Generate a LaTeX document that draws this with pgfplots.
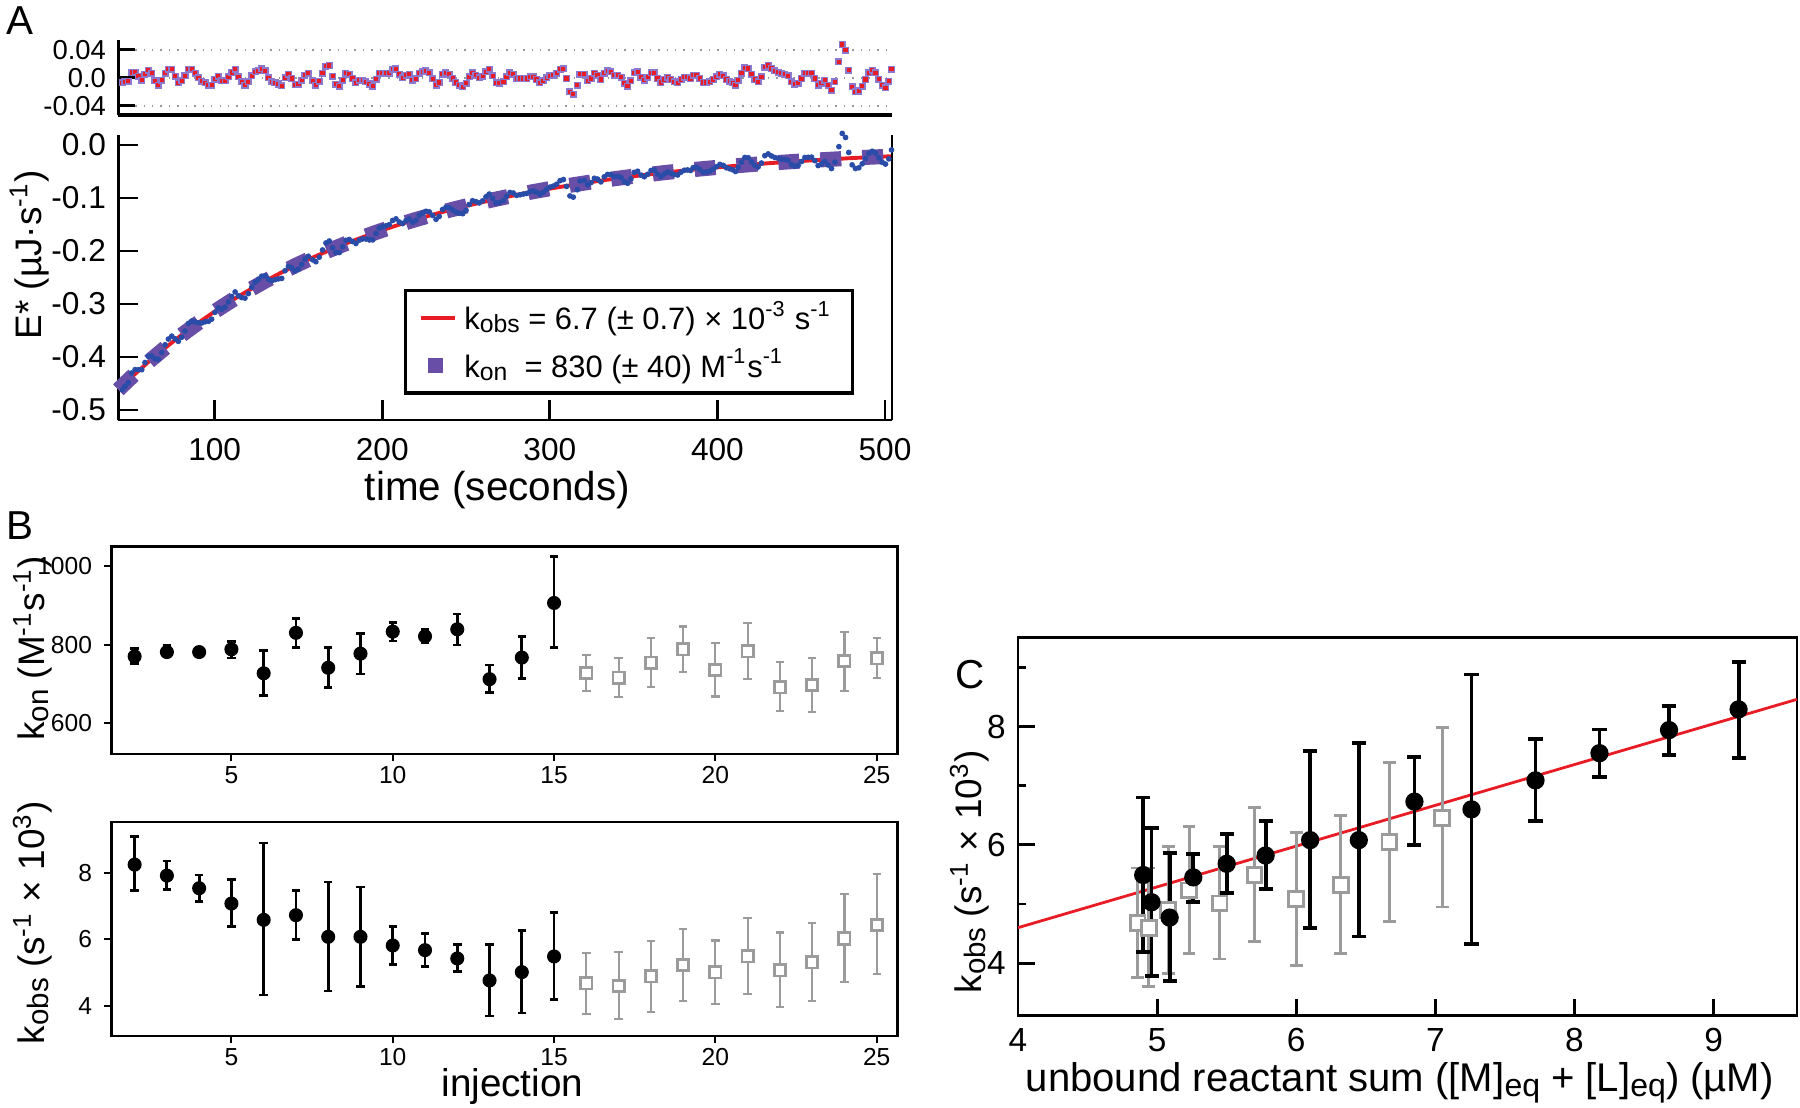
\documentclass[border=0pt]{standalone}
\usepackage{fontspec}
\setmainfont{Liberation Sans}
\usepackage{graphicx}
\usepackage{pgfplots}
\pgfplotsset{compat=1.18}
\usepackage{pgfplotstable}

\definecolor{fitred}{RGB}{232,28,36}
\definecolor{konpurple}{RGB}{104,78,166}
\definecolor{datablue}{RGB}{40,76,168}
\definecolor{resedge}{RGB}{140,120,205}
\definecolor{lightgrey}{RGB}{155,155,155}

\newcommand{\fs}[1]{\fontsize{#1}{#1}\selectfont}
\newcommand{\sub}[1]{\raisebox{-0.2ex}{\scalebox{0.8}{#1}}}

% time course: t, residual r, data d
\pgfplotstableread{
t r d
44.9 -0.0071 -0.4619
46.5 -0.0057 -0.4556
48.5 -0.0048 -0.4486
50.5 0.0076 -0.4302
52.5 0.0081 -0.4240
54.5 0.0024 -0.4240
56.5 -0.0033 -0.4240
58.4 0.0048 -0.4105
60.4 0.0110 -0.3986
62.4 0.0062 -0.3981
64.4 -0.0043 -0.4033
66.4 -0.0105 -0.4042
68.4 -0.0033 -0.3917
70.4 0.0062 -0.3769
72.4 0.0119 -0.3662
74.4 0.0124 -0.3607
76.4 0.0024 -0.3657
78.3 -0.0071 -0.3705
80.3 -0.0043 -0.3628
82.3 0.0029 -0.3510
84.3 0.0124 -0.3368
86.3 0.0124 -0.3322
88.3 0.0062 -0.3337
90.3 0.0000 -0.3353
92.3 -0.0048 -0.3358
94.3 -0.0071 -0.3337
96.3 -0.0105 -0.3328
98.2 -0.0105 -0.3286
100.2 -0.0019 -0.3157
102.2 0.0024 -0.3073
104.2 -0.0043 -0.3099
106.2 -0.0043 -0.3059
108.2 0.0014 -0.2961
110.2 0.0076 -0.2858
112.2 0.0124 -0.2772
114.2 0.0014 -0.2844
116.1 -0.0057 -0.2879
118.1 -0.0105 -0.2889
120.1 -0.0057 -0.2803
122.1 0.0029 -0.2682
124.1 0.0086 -0.2589
126.1 0.0100 -0.2539
128.1 0.0129 -0.2475
130.1 0.0100 -0.2468
132.1 0.0000 -0.2535
134.0 -0.0057 -0.2560
136.0 -0.0071 -0.2541
138.0 -0.0090 -0.2526
140.0 -0.0114 -0.2517
142.0 0.0000 -0.2372
144.0 0.0052 -0.2289
146.0 -0.0010 -0.2319
148.0 -0.0100 -0.2378
150.0 -0.0095 -0.2342
152.0 -0.0033 -0.2251
153.9 0.0038 -0.2152
155.9 0.0062 -0.2099
158.5 -0.0043 -0.2167
160.4 -0.0105 -0.2202
162.4 -0.0048 -0.2117
164.4 0.0062 -0.1980
166.4 0.0167 -0.1848
168.4 0.0176 -0.1811
170.4 0.0024 -0.1937
172.4 -0.0095 -0.2030
174.4 -0.0119 -0.2029
176.4 -0.0033 -0.1917
178.3 0.0062 -0.1798
180.3 0.0052 -0.1782
182.3 -0.0010 -0.1821
184.3 -0.0071 -0.1858
186.3 -0.0033 -0.1796
188.3 -0.0033 -0.1772
190.3 -0.0057 -0.1773
192.3 -0.0090 -0.1784
194.3 -0.0119 -0.1790
196.3 -0.0019 -0.1668
198.2 0.0062 -0.1566
200.2 0.0062 -0.1544
202.2 0.0062 -0.1523
204.2 0.0062 -0.1502
206.2 0.0119 -0.1424
208.2 0.0129 -0.1393
210.2 0.0048 -0.1453
212.2 0.0000 -0.1482
214.2 0.0038 -0.1424
216.1 0.0048 -0.1396
218.1 -0.0033 -0.1457
220.1 -0.0014 -0.1419
222.1 0.0062 -0.1325
224.1 0.0086 -0.1283
226.1 0.0100 -0.1250
228.1 0.0071 -0.1261
230.1 -0.0014 -0.1328
232.1 -0.0105 -0.1402
234.0 -0.0067 -0.1348
236.0 0.0048 -0.1216
238.0 0.0071 -0.1176
240.0 0.0048 -0.1182
242.0 -0.0010 -0.1224
244.0 -0.0067 -0.1265
246.0 -0.0105 -0.1287
248.0 -0.0129 -0.1295
250.0 -0.0081 -0.1231
251.9 0.0014 -0.1122
253.9 0.0071 -0.1050
255.9 0.0038 -0.1068
257.9 0.0000 -0.1092
259.9 0.0024 -0.1053
261.9 0.0086 -0.0977
263.9 0.0124 -0.0925
265.9 0.0029 -0.1006
267.9 -0.0071 -0.1092
269.8 -0.0081 -0.1088
272.3 -0.0057 -0.1048
274.2 0.0014 -0.0965
276.2 0.0071 -0.0895
278.2 0.0048 -0.0905
280.2 -0.0010 -0.0950
282.2 -0.0010 -0.0938
284.2 -0.0010 -0.0925
286.2 -0.0010 -0.0913
288.2 0.0014 -0.0877
290.2 0.0014 -0.0865
292.1 -0.0024 -0.0892
294.1 -0.0071 -0.0928
296.1 -0.0043 -0.0888
298.1 0.0000 -0.0834
300.1 0.0029 -0.0793
302.1 0.0038 -0.0774
304.1 0.0062 -0.0739
306.1 0.0119 -0.0672
308.1 0.0129 -0.0651
310.0 -0.0010 -0.0780
312.0 -0.0200 -0.0960
314.0 -0.0233 -0.0983
316.4 -0.0105 -0.0843
318.0 0.0052 -0.0678
320.6 0.0048 -0.0669
322.6 -0.0043 -0.0751
324.6 -0.0010 -0.0708
326.6 0.0062 -0.0627
328.5 0.0038 -0.0642
330.5 -0.0024 -0.0695
332.5 0.0062 -0.0600
334.5 0.0100 -0.0553
336.5 0.0086 -0.0558
338.5 0.0038 -0.0598
340.5 0.0038 -0.0589
342.5 0.0005 -0.0614
344.5 -0.0081 -0.0692
346.4 -0.0119 -0.0722
348.4 -0.0043 -0.0638
350.4 0.0071 -0.0516
352.4 0.0086 -0.0494
354.4 0.0005 -0.0567
356.4 -0.0033 -0.0598
358.4 0.0005 -0.0552
360.4 0.0071 -0.0479
362.4 0.0071 -0.0471
364.3 -0.0010 -0.0546
366.3 -0.0067 -0.0595
368.3 -0.0024 -0.0545
370.3 0.0005 -0.0509
372.3 -0.0024 -0.0531
374.3 -0.0057 -0.0557
376.3 -0.0071 -0.0565
378.3 -0.0024 -0.0511
380.3 0.0005 -0.0475
382.2 0.0005 -0.0469
384.0 -0.0010 -0.0479
385.6 0.0038 -0.0426
387.5 0.0038 -0.0420
389.5 -0.0010 -0.0462
391.5 -0.0067 -0.0513
393.5 -0.0067 -0.0507
395.5 -0.0057 -0.0491
397.5 -0.0024 -0.0452
399.5 0.0014 -0.0408
401.5 0.0052 -0.0365
403.5 0.0029 -0.0383
405.4 -0.0024 -0.0430
407.4 -0.0048 -0.0449
409.2 -0.0071 -0.0467
410.8 -0.0105 -0.0498
412.4 -0.0033 -0.0421
414.4 0.0062 -0.0321
416.4 0.0143 -0.0234
418.4 0.0133 -0.0239
420.4 0.0048 -0.0319
422.4 -0.0024 -0.0386
424.3 -0.0057 -0.0415
426.3 0.0014 -0.0339
428.3 0.0148 -0.0200
430.3 0.0176 -0.0167
432.3 0.0133 -0.0206
434.3 0.0100 -0.0235
436.3 0.0081 -0.0249
438.3 0.0062 -0.0264
440.3 0.0048 -0.0273
442.2 0.0029 -0.0288
444.2 -0.0057 -0.0370
446.2 -0.0090 -0.0399
448.2 -0.0081 -0.0386
450.2 -0.0010 -0.0311
452.2 0.0062 -0.0235
454.2 0.0062 -0.0231
456.2 0.0062 -0.0227
458.2 -0.0010 -0.0295
460.1 -0.0105 -0.0387
462.1 -0.0081 -0.0359
464.1 -0.0033 -0.0308
466.1 -0.0105 -0.0376
468.1 -0.0176 -0.0443
470.1 -0.0057 -0.0321
472.5 0.0229 -0.0030
474.5 0.0476 0.0220
476.5 0.0395 0.0143
478.4 0.0110 -0.0139
480.4 -0.0129 -0.0374
482.4 -0.0200 -0.0442
484.4 -0.0190 -0.0429
486.4 -0.0119 -0.0355
488.4 -0.0024 -0.0256
490.4 0.0071 -0.0158
492.4 0.0110 -0.0117
494.4 0.0071 -0.0153
496.3 -0.0019 -0.0240
498.3 -0.0105 -0.0323
500.3 -0.0143 -0.0359
502.3 -0.0048 -0.0261
503.9 0.0119 -0.0092
}\timecourse

% fitted curve
\pgfplotstableread{
t e
42.5 -0.4619
50 -0.4392
60 -0.4107
70 -0.3841
80 -0.3592
90 -0.3360
100 -0.3142
110 -0.2938
120 -0.2748
130 -0.2570
140 -0.2403
150 -0.2247
160 -0.2102
170 -0.1966
180 -0.1838
190 -0.1719
200 -0.1608
210 -0.1503
220 -0.1406
230 -0.1315
240 -0.1230
250 -0.1150
260 -0.1076
270 -0.1006
280 -0.0941
290 -0.0880
300 -0.0823
310 -0.0770
320 -0.0720
330 -0.0673
340 -0.0629
350 -0.0589
360 -0.0551
370 -0.0515
380 -0.0481
390 -0.0450
400 -0.0421
410 -0.0394
420 -0.0368
430 -0.0344
440 -0.0322
450 -0.0301
460 -0.0282
470 -0.0264
480 -0.0246
490 -0.0230
500 -0.0216
504.2 -0.0210
}\fitcurve

% kon per injection
\pgfplotstableread{
i k ep em
2 770 20 18
3 781 16 12
4 781 12 11
5 788 20 22
6 727 59 57
7 830 37 38
8 741 51 50
9 777 52 52
10 833 24 24
11 821 17 16
12 839 39 40
13 712 36 34
14 767 53 53
15 906 118 114
}\konblack
\pgfplotstableread{
i k ep em
16 727 46 45
17 716 50 49
18 754 62 63
19 788 58 57
20 735 68 67
21 783 71 71
22 691 64 61
23 697 69 69
24 758 75 76
25 765 51 51
}\kongrey

% kobs per injection
\pgfplotstableread{
i k ep em
2 8.24 0.84 0.78
3 7.91 0.44 0.42
4 7.53 0.40 0.39
5 7.07 0.72 0.68
6 6.58 2.31 2.26
7 6.72 0.75 0.73
8 6.07 1.65 1.63
9 6.07 1.50 1.49
10 5.81 0.56 0.57
11 5.67 0.49 0.48
12 5.42 0.42 0.39
13 4.76 1.09 1.07
14 5.01 1.25 1.23
15 5.48 1.32 1.30
}\kobsblack
\pgfplotstableread{
i k ep em
16 4.67 0.91 0.91
17 4.60 1.01 0.99
18 4.88 1.07 1.06
19 5.23 1.08 1.08
20 5.00 0.96 0.95
21 5.48 1.15 1.12
22 5.06 1.14 1.11
23 5.30 1.18 1.15
24 6.02 1.35 1.32
25 6.43 1.53 1.48
}\kobsgrey

% kobs against unbound reactant sum
\pgfplotstableread{
c k ep em
4.90 5.49 1.31 1.30
4.96 5.03 1.25 1.24
5.09 4.77 1.09 1.07
5.26 5.45 0.40 0.41
5.50 5.68 0.50 0.50
5.78 5.82 0.58 0.57
6.10 6.08 1.51 1.49
6.45 6.08 1.64 1.63
6.85 6.73 0.75 0.73
7.26 6.60 2.28 2.27
7.72 7.09 0.70 0.68
8.18 7.55 0.40 0.40
8.68 7.94 0.41 0.42
9.18 8.29 0.80 0.82
}\concblack
\pgfplotstableread{
c k ep em
4.86 4.68 0.93 0.92
4.94 4.59 1.02 0.98
5.08 4.90 1.07 1.08
5.23 5.23 1.08 1.06
5.45 5.01 0.96 0.94
5.70 5.49 1.14 1.12
6.00 5.08 1.13 1.12
6.32 5.32 1.17 1.16
6.67 6.05 1.34 1.34
7.05 6.45 1.53 1.50
}\concgrey

\pgfplotsset{
  panel/.style={scale only axis, anchor=south west,
    /pgf/number format/assume math mode=true,
    /pgf/number format/1000 sep={},
    tick style={black}, axis line style={black}},
  % #1 mark size, #2 bar width, #3 cap half length
  blackpts/.style n args={3}{only marks, mark=*, mark size=#1, black,
    error bars/.cd, y dir=both, y explicit,
    error bar style={line width=#2, black},
    error mark options={rotate=90, mark size=#3, line width=#2, black}},
  greypts/.style n args={3}{only marks, mark=square*, mark size=#1,
    mark options={draw=lightgrey, fill=white, line width=0.8pt},
    error bars/.cd, y dir=both, y explicit,
    error bar style={line width=#2, lightgrey},
    error mark options={rotate=90, mark size=#3, line width=#2, lightgrey}},
}

\begin{document}
\begin{tikzpicture}
\path[use as bounding box] (0,0) rectangle (18,11.07);

% A: residuals
\begin{axis}[panel, at={(1.183cm,9.92cm)}, width=7.737cm, height=0.75cm,
  xmin=42.5, xmax=504.2, ymin=-0.0533, ymax=0.0539,
  axis lines=left, axis line style={-, line width=0.9pt},
  xtick=\empty, ytick={-0.04,0,0.04}, yticklabels={-0.04,0.0,0.04},
  scaled y ticks=false,
  tick align=inside, major tick length=0.17cm, tick style={line width=0.9pt},
  ymajorgrids, grid style={dotted, gray!80, line width=0.5pt},
  yticklabel style={font=\fs{7.8}}, clip=false]
\addplot[only marks, mark=square*, mark size=0.8pt,
  mark options={draw=resedge, fill=fitred, line width=0.4pt}]
  table[x=t, y=r] {\timecourse};
\end{axis}

% A: time course
\begin{axis}[panel, at={(1.183cm,6.87cm)}, width=7.737cm, height=2.85cm,
  xmin=42.5, xmax=504.2, ymin=-0.519, ymax=0.019,
  axis lines=left, axis line style={-, line width=0.8pt},
  xtick={100,200,300,400,500}, ytick={-0.5,-0.4,-0.3,-0.2,-0.1,0},
  yticklabels={-0.5,-0.4,-0.3,-0.2,-0.1,0.0},
  tick align=inside, major tick length=0.2cm, tick style={line width=0.8pt},
  tick label style={font=\fs{9}}, xticklabel style={yshift=-0.06cm},
  xlabel={time (seconds)},
  xlabel style={font=\fs{11.5}, at={(axis description cs:0.49,-0.245)}, anchor=center},
  ylabel={E* (µJ·s\textsuperscript{-1})},
  ylabel style={font=\fs{10.5}, at={(axis description cs:-0.115,0.58)}, anchor=center},
  legend style={at={(0.369,0.46)}, anchor=north west, draw=black, line width=0.9pt,
    font=\fs{8.8}, inner xsep=4pt, inner ysep=1pt, row sep=0pt,
    /tikz/every even column/.append style={column sep=2pt}},
  legend cell align=left, clip=false]
\addplot[only marks, mark=*, mark size=0.6pt, datablue, forget plot]
  table[x=t, y=d] {\timecourse};
\addplot[fitred, line width=1.1pt,
  legend image code/.code={\draw[fitred, line width=1.1pt] (0cm,0cm) -- (0.34cm,0cm);}]
  table[x=t, y=e] {\fitcurve};
\addlegendentry{k\sub{obs} = 6.7 (± 0.7) × 10\textsuperscript{-3} s\textsuperscript{-1}}
\addplot[konpurple, line width=4.3pt, dash pattern=on 0.21cm off 0.21cm,
  legend image code/.code={\path[fill=konpurple, draw=none] (0.07cm,-0.075cm) rectangle (0.22cm,0.075cm);}]
  table[x=t, y=e] {\fitcurve};
\addlegendentry{k\sub{on}\ \ = 830 (± 40) M\textsuperscript{-1}s\textsuperscript{-1}}
\draw[line width=0.8pt] (rel axis cs:1,0) -- (rel axis cs:1,1);
\end{axis}

% B: kon
\begin{axis}[panel, at={(1.114cm,3.528cm)}, width=7.863cm, height=2.078cm,
  xmin=1.28, xmax=25.65, ymin=521, ymax=1050,
  axis line style={line width=0.7pt},
  xtick={5,10,15,20,25}, ytick={600,800,1000},
  tick pos=left, tick align=outside, major tick length=0.07cm, tick style={line width=0.6pt},
  tick label style={font=\fs{7}}, xticklabel style={yshift=0.07cm},
  ylabel={k\sub{on} (M\textsuperscript{-1}s\textsuperscript{-1})},
  ylabel style={font=\fs{10.5}, at={(axis description cs:-0.1,0.51)}, anchor=center}]
\addplot[greypts={1.6pt}{0.6pt}{1.2pt}] table[x=i, y=k, y error plus=ep, y error minus=em] {\kongrey};
\addplot[blackpts={1.8pt}{0.8pt}{1.2pt}] table[x=i, y=k, y error plus=ep, y error minus=em] {\konblack};
\end{axis}

% B: kobs
\begin{axis}[panel, at={(1.114cm,0.71cm)}, width=7.863cm, height=2.14cm,
  xmin=1.28, xmax=25.65, ymin=3.09, ymax=9.52,
  axis line style={line width=0.7pt},
  xtick={5,10,15,20,25}, ytick={4,6,8},
  tick pos=left, tick align=outside, major tick length=0.07cm, tick style={line width=0.6pt},
  tick label style={font=\fs{7}}, xticklabel style={yshift=0.07cm},
  xlabel={injection},
  xlabel style={font=\fs{11}, at={(axis description cs:0.51,-0.235)}, anchor=center},
  ylabel={k\sub{obs} (s\textsuperscript{-1} × 10\textsuperscript{3})},
  ylabel style={font=\fs{10.5}, at={(axis description cs:-0.1,0.53)}, anchor=center}]
\addplot[greypts={1.6pt}{0.6pt}{1.2pt}] table[x=i, y=k, y error plus=ep, y error minus=em] {\kobsgrey};
\addplot[blackpts={1.8pt}{0.8pt}{1.2pt}] table[x=i, y=k, y error plus=ep, y error minus=em] {\kobsblack};
\end{axis}

% C
\begin{axis}[panel, at={(10.18cm,0.912cm)}, width=7.79cm, height=3.78cm,
  xmin=4, xmax=9.6, ymin=3.11, ymax=9.5,
  axis line style={line width=0.8pt},
  xtick={4,5,6,7,8,9}, ytick={4,6,8}, minor ytick={5,7,9},
  tick pos=left, tick align=inside, major tick length=0.17cm, minor tick length=0.08cm,
  tick style={line width=0.8pt},
  tick label style={font=\fs{9.5}},
  xlabel={unbound reactant sum ([M]\sub{eq} + [L]\sub{eq}) (µM)},
  xlabel style={font=\fs{11.4}, at={(axis description cs:0.49,-0.177)}, anchor=center},
  ylabel={k\sub{obs} (s\textsuperscript{-1} × 10\textsuperscript{3})},
  ylabel style={font=\fs{10.5}, at={(axis description cs:-0.062,0.381)}, anchor=center}]
\addplot[fitred, line width=0.8pt] coordinates {(4,4.60) (9.6,8.46)};
\addplot[greypts={2.1pt}{0.8pt}{1.8pt}] table[x=c, y=k, y error plus=ep, y error minus=em] {\concgrey};
\addplot[blackpts={2.4pt}{1.1pt}{2pt}] table[x=c, y=k, y error plus=ep, y error minus=em] {\concblack};
\end{axis}

\node[font=\fs{11.5}] at (0.2,10.86) {A};
\node[font=\fs{11.5}] at (0.2,5.81) {B};
\node[font=\fs{11.5}] at (9.7,4.32) {C};
\end{tikzpicture}
\end{document}
